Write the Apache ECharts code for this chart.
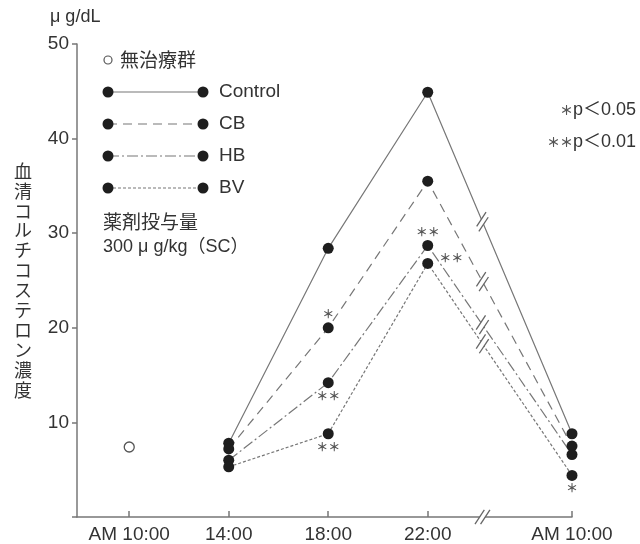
<!DOCTYPE html>
<html><head><meta charset="utf-8">
<script src="https://cdn.jsdelivr.net/npm/echarts@6/dist/echarts.min.js"></script>
<style>html,body{margin:0;padding:0;background:#fff}#c{width:640px;height:544px}</style>
</head><body><div id="c"></div>
<script>
// ---- data ----
const timeLabels = ['AM 10:00', '14:00', '18:00', '22:00', 'AM 10:00'];
const timeHours = [10, 14, 18, 22, 34];
const untreatedName = '無治療群';
const untreatedHour = [10];
const untreated = [7.4];
const seriesNames = ['Control', 'CB', 'HB', 'BV'];
const treatedHours = [14, 18, 22, 34];
const control = [7.8, 28.4, 44.9, 8.8];
const cb = [7.2, 20.0, 35.5, 7.5];
const hb = [6.0, 14.2, 28.7, 6.6];
const bv = [5.3, 8.8, 26.8, 4.4];
const sigControl = ['', '', '', ''];
const sigCB = ['', '＊', '', ''];
const sigHB = ['', '＊＊', '＊＊', ''];
const sigBV = ['', '＊＊', '＊＊', '＊'];
const yTicks = [0, 10, 20, 30, 40, 50];
const yTitle = '血清コルチコステロン濃度';
const yUnit = 'μ g/dL';
const doseTitle = '薬剤投与量';
const doseText = '300 μ g/kg（SC）';
const pNotes = ['＊p＜0.05', '＊＊p＜0.01'];

// ---- styles ----
const FF = "'Liberation Sans', Arial, 'Noto Sans CJK JP', sans-serif";
const JF = "'Noto Sans CJK JP', 'Liberation Sans', sans-serif";
const LINE_C = '#777';
const DOT_C = '#1e1e1e';
const TXT_C = '#333';
const dashes = [null, [9, 6], [11, 3, 2, 3], [3, 2]];
const sigPos = {
  CB: ['top', 'top', 'top', 'top'],
  HB: ['bottom', 'bottom', 'top', 'bottom'],
  BV: ['bottom', 'bottom', 'right', 'bottom']
};
const allVals = [control, cb, hb, bv];
const allSig = [sigControl, sigCB, sigHB, sigBV];
const breakStart = 24.2, breakEnd = 30.4;

const chart = echarts.init(document.getElementById('c'));

const series = seriesNames.map((name, si) => ({
  type: 'line', name,
  data: treatedHours.map((h, i) => {
    const s = allSig[si][i];
    const item = { value: [h, allVals[si][i]] };
    if (s) {
      const pos = sigPos[name][i];
      item.label = {
        show: true, formatter: s, position: pos,
        distance: pos === 'right' ? 6 : 2,
        offset: pos === 'right' ? [0, -5] : [0, 0],
        fontSize: 12, color: '#555', fontWeight: 'bold', fontFamily: JF
      };
    }
    return item;
  }),
  symbol: 'circle', symbolSize: 11,
  itemStyle: { color: DOT_C },
  lineStyle: { color: LINE_C, width: 1.2, type: dashes[si] || 'solid' },
  label: { show: false },
  z: 3
}));
series.push({
  type: 'scatter', name: untreatedName,
  data: untreatedHour.map((h, i) => [h, untreated[i]]),
  symbol: 'circle', symbolSize: 10,
  itemStyle: { color: '#ffffff', borderColor: '#555', borderWidth: 1.3, opacity: 1 },
  z: 5
});

chart.setOption({
  animation: false,
  grid: { left: 77, right: 68, top: 44, bottom: 26 },
  xAxis: {
    type: 'value', min: 7.9, max: 34,
    breaks: [{ start: breakStart, end: breakEnd, gap: 0 }],
    breakArea: { show: false },
    axisLine: { lineStyle: { color: LINE_C, width: 1.5 } },
    axisTick: { inside: true, length: 6, customValues: timeHours, lineStyle: { color: LINE_C, width: 1.5 } },
    axisLabel: {
      customValues: timeHours,
      formatter: v => timeLabels[timeHours.indexOf(v)] || '',
      fontSize: 19, color: TXT_C, fontFamily: FF, margin: 8
    },
    splitLine: { show: false }
  },
  yAxis: {
    type: 'value', min: 0, max: 50, interval: 10,
    axisLine: { show: true, lineStyle: { color: LINE_C, width: 1.5 } },
    axisTick: { show: true, length: 5, customValues: yTicks, lineStyle: { color: LINE_C, width: 1.5 } },
    axisLabel: {
      customValues: yTicks.filter(v => v > 0),
      fontSize: 19, color: TXT_C, fontFamily: FF, margin: 8
    },
    splitLine: { show: false }
  },
  series
});

// ---- decorations (legend, titles, break marks) ----
const g = [];
g.push({ type: 'text', left: 50, top: 8, style: { text: yUnit, fontSize: 18, fill: TXT_C, fontFamily: FF } });
g.push({ type: 'text', x: 23, y: 161, style: { text: yTitle.split('').join('\n'), fontSize: 18, lineHeight: 19.9, fill: TXT_C, fontFamily: JF, align: 'center' } });
g.push({ type: 'circle', shape: { cx: 108, cy: 60, r: 4 }, style: { fill: '#fff', stroke: '#555', lineWidth: 1.2 } });
g.push({ type: 'text', x: 120, y: 60, style: { text: untreatedName, fontSize: 19, fill: TXT_C, fontFamily: JF, verticalAlign: 'middle' } });
seriesNames.forEach((name, i) => {
  const y = 92 + i * 32;
  g.push({ type: 'line', shape: { x1: 108, y1: y, x2: 203, y2: y }, style: { stroke: LINE_C, lineWidth: 1.2, lineDash: dashes[i] || null } });
  g.push({ type: 'circle', shape: { cx: 108, cy: y, r: 5.5 }, style: { fill: DOT_C } });
  g.push({ type: 'circle', shape: { cx: 203, cy: y, r: 5.5 }, style: { fill: DOT_C } });
  g.push({ type: 'text', x: 219, y: y, style: { text: name, fontSize: 19, fill: TXT_C, fontFamily: FF, verticalAlign: 'middle' } });
});
g.push({ type: 'text', x: 103, y: 222, style: { text: doseTitle, fontSize: 19, fill: TXT_C, fontFamily: JF, verticalAlign: 'middle' } });
g.push({ type: 'text', x: 103, y: 247, style: { text: doseText, fontSize: 18, fill: TXT_C, fontFamily: FF, verticalAlign: 'middle' } });
pNotes.forEach((t, i) => {
  const m = t.match(/^(＊+)(.*)$/);
  g.push({ type: 'text', x: 636, y: 110 + i * 32, style: {
    text: '{a|' + m[1] + '}{b|' + m[2] + '}', align: 'right', verticalAlign: 'middle',
    rich: { a: { fontSize: 13, fill: '#555', fontWeight: 'bold', fontFamily: JF }, b: { fontSize: 18, fill: TXT_C, fontFamily: FF } }
  } });
});

function breakMark(cx, cy, ux, uy) {
  const sx = 0.55, sy = -0.835, L = 8.5, d = 2.8;
  const pts = [
    [cx - d * ux + sx * 6, cy - d * uy + sy * 6],
    [cx + d * ux + sx * 6, cy + d * uy + sy * 6],
    [cx + d * ux - sx * 6, cy + d * uy - sy * 6],
    [cx - d * ux - sx * 6, cy - d * uy - sy * 6]
  ];
  g.push({ type: 'polygon', z: 100, shape: { points: pts }, style: { fill: '#fff', stroke: null } });
  [-d, d].forEach(o => {
    const bx = cx + o * ux, by = cy + o * uy;
    g.push({ type: 'line', z: 101, shape: { x1: bx - sx * L, y1: by - sy * L, x2: bx + sx * L, y2: by + sy * L }, style: { stroke: '#666', lineWidth: 1.3 } });
  });
}
const bxPix = chart.convertToPixel({ gridIndex: 0 }, [breakStart, 0]);
allVals.forEach(vals => {
  const p1 = chart.convertToPixel({ gridIndex: 0 }, [22, vals[2]]);
  const p2 = chart.convertToPixel({ gridIndex: 0 }, [34, vals[3]]);
  const t = (bxPix[0] - p1[0]) / (p2[0] - p1[0]);
  const cx = p1[0] + t * (p2[0] - p1[0]);
  const cy = p1[1] + t * (p2[1] - p1[1]);
  const len = Math.hypot(p2[0] - p1[0], p2[1] - p1[1]);
  breakMark(cx, cy, (p2[0] - p1[0]) / len, (p2[1] - p1[1]) / len);
});
breakMark(bxPix[0], bxPix[1], 1, 0);

chart.setOption({ graphic: g });
</script></body></html>
